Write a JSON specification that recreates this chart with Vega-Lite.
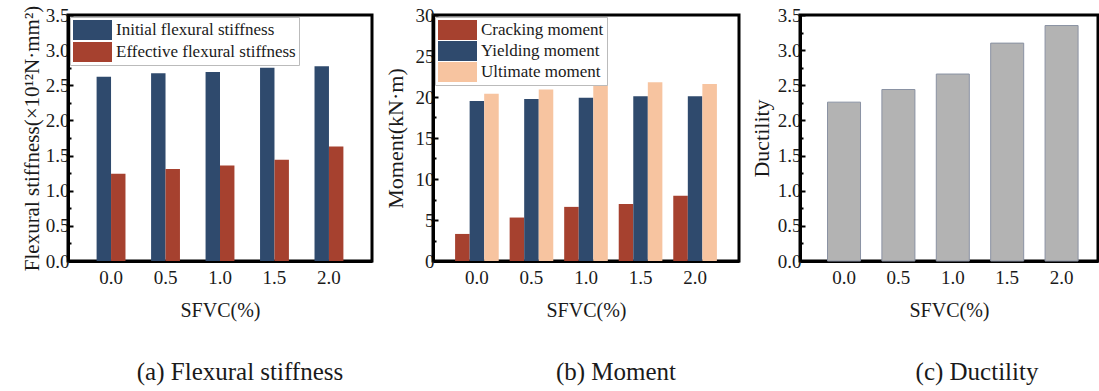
{
  "$schema": "https://vega.github.io/schema/vega-lite/v6.json",
  "padding": {"left": 19, "top": 3, "right": 0, "bottom": 0},
  "bounds": "flush",
  "spacing": 61,
  "resolve": {"scale": {"color": "independent", "xOffset": "independent", "x": "independent", "y": "independent"}, "legend": {"color": "independent"}},
  "datasets": {
    "stiff": [
      {"SFVC": "0.0", "series": "Initial flexural stiffness", "value": 2.62},
      {"SFVC": "0.5", "series": "Initial flexural stiffness", "value": 2.67},
      {"SFVC": "1.0", "series": "Initial flexural stiffness", "value": 2.69},
      {"SFVC": "1.5", "series": "Initial flexural stiffness", "value": 2.75},
      {"SFVC": "2.0", "series": "Initial flexural stiffness", "value": 2.77},
      {"SFVC": "0.0", "series": "Effective flexural stiffness", "value": 1.24},
      {"SFVC": "0.5", "series": "Effective flexural stiffness", "value": 1.31},
      {"SFVC": "1.0", "series": "Effective flexural stiffness", "value": 1.36},
      {"SFVC": "1.5", "series": "Effective flexural stiffness", "value": 1.44},
      {"SFVC": "2.0", "series": "Effective flexural stiffness", "value": 1.63}
    ],
    "moment": [
      {"SFVC": "0.0", "series": "Cracking moment", "value": 3.3},
      {"SFVC": "0.5", "series": "Cracking moment", "value": 5.3},
      {"SFVC": "1.0", "series": "Cracking moment", "value": 6.6},
      {"SFVC": "1.5", "series": "Cracking moment", "value": 6.95},
      {"SFVC": "2.0", "series": "Cracking moment", "value": 7.96},
      {"SFVC": "0.0", "series": "Yielding moment", "value": 19.5},
      {"SFVC": "0.5", "series": "Yielding moment", "value": 19.76},
      {"SFVC": "1.0", "series": "Yielding moment", "value": 19.9},
      {"SFVC": "1.5", "series": "Yielding moment", "value": 20.1},
      {"SFVC": "2.0", "series": "Yielding moment", "value": 20.1},
      {"SFVC": "0.0", "series": "Ultimate moment", "value": 20.4},
      {"SFVC": "0.5", "series": "Ultimate moment", "value": 20.9},
      {"SFVC": "1.0", "series": "Ultimate moment", "value": 21.5},
      {"SFVC": "1.5", "series": "Ultimate moment", "value": 21.8},
      {"SFVC": "2.0", "series": "Ultimate moment", "value": 21.6}
    ],
    "duct": [
      {"SFVC": "0.0", "value": 2.26},
      {"SFVC": "0.5", "value": 2.44},
      {"SFVC": "1.0", "value": 2.66},
      {"SFVC": "1.5", "value": 3.10},
      {"SFVC": "2.0", "value": 3.35}
    ]
  },
  "hconcat": [
    {
      "width": 304,
      "height": 246,
      "view": {"stroke": "#000000", "strokeWidth": 3},
      "data": {"name": "stiff"},
      "title": {"text": "(a) Flexural stiffness", "dx": 20},
      "mark": {"type": "bar"},
      "encoding": {
        "x": {
          "field": "SFVC", "type": "nominal", "sort": ["0.0", "0.5", "1.0", "1.5", "2.0"],
          "scale": {"paddingInner": 0.47, "paddingOuter": 0.525},
          "axis": {"title": "SFVC(%)", "labelAngle": 0, "ticks": false, "labelPadding": 7, "titlePadding": 13}
        },
        "xOffset": {"field": "series", "type": "nominal", "sort": ["Initial flexural stiffness", "Effective flexural stiffness"], "scale": {"paddingInner": 0, "paddingOuter": 0}},
        "y": {
          "field": "value", "type": "quantitative",
          "scale": {"domain": [0, 3.5], "nice": false, "zero": true},
          "axis": {
            "title": "Flexural stiffness(×10¹²N·mm²)",
            "titleFontSize": 21,
            "values": [0, 0.25, 0.5, 0.75, 1, 1.25, 1.5, 1.75, 2, 2.25, 2.5, 2.75, 3, 3.25, 3.5],
            "labelExpr": "datum.value % 0.5 === 0 ? format(datum.value, '.1f') : ''",
            "tickSize": {"condition": {"test": "datum.value % 0.5 === 0", "value": -5}, "value": -3},
            "labelPadding": 4,
            "titlePadding": 3
          }
        },
        "color": {
          "field": "series", "type": "nominal",
          "scale": {"domain": ["Initial flexural stiffness", "Effective flexural stiffness"], "range": ["#2f4a6d", "#a6412f"]},
          "legend": {"title": null, "orient": "top-left", "offset": 2, "rowPadding": 2}
        }
      }
    },
    {
      "width": 306,
      "height": 246,
      "view": {"stroke": "#000000", "strokeWidth": 3},
      "data": {"name": "moment"},
      "title": {"text": "(b) Moment", "dx": 30},
      "mark": {"type": "bar"},
      "encoding": {
        "x": {
          "field": "SFVC", "type": "nominal", "sort": ["0.0", "0.5", "1.0", "1.5", "2.0"],
          "scale": {"paddingInner": 0.2, "paddingOuter": 0.405},
          "axis": {"title": "SFVC(%)", "labelAngle": 0, "ticks": false, "labelPadding": 7, "titlePadding": 13}
        },
        "xOffset": {"field": "series", "type": "nominal", "sort": ["Cracking moment", "Yielding moment", "Ultimate moment"], "scale": {"paddingInner": 0, "paddingOuter": 0}},
        "y": {
          "field": "value", "type": "quantitative",
          "scale": {"domain": [0, 30], "nice": false, "zero": true},
          "axis": {
            "title": "Moment(kN·m)",
            "titleFontSize": 22,
            "values": [0, 2.5, 5, 7.5, 10, 12.5, 15, 17.5, 20, 22.5, 25, 27.5, 30],
            "labelExpr": "datum.value % 5 === 0 ? format(datum.value, 'd') : ''",
            "tickSize": {"condition": {"test": "datum.value % 5 === 0", "value": -5}, "value": -3},
            "labelPadding": 4,
            "titlePadding": 8
          }
        },
        "color": {
          "field": "series", "type": "nominal",
          "scale": {"domain": ["Cracking moment", "Yielding moment", "Ultimate moment"], "range": ["#a6412f", "#2f4a6d", "#f7c4a0"]},
          "legend": {"title": null, "orient": "top-left", "offset": 2, "rowPadding": 1}
        }
      }
    },
    {
      "width": 298,
      "height": 246,
      "view": {"stroke": "#000000", "strokeWidth": 3},
      "data": {"name": "duct"},
      "title": {"text": "(c) Ductility", "dx": 28},
      "mark": {"type": "bar", "color": "#b3b3b3", "stroke": "#8a92a3", "strokeWidth": 1},
      "encoding": {
        "x": {
          "field": "SFVC", "type": "nominal", "sort": ["0.0", "0.5", "1.0", "1.5", "2.0"],
          "scale": {"paddingInner": 0.393, "paddingOuter": 0.436, "align": 0.58},
          "axis": {"title": "SFVC(%)", "labelAngle": 0, "ticks": false, "labelPadding": 7, "titlePadding": 13}
        },
        "y": {
          "field": "value", "type": "quantitative",
          "scale": {"domain": [0, 3.5], "nice": false, "zero": true},
          "axis": {
            "title": "Ductility",
            "titleFontSize": 22,
            "values": [0, 0.25, 0.5, 0.75, 1, 1.25, 1.5, 1.75, 2, 2.25, 2.5, 2.75, 3, 3.25, 3.5],
            "labelExpr": "datum.value % 0.5 === 0 ? format(datum.value, '.1f') : ''",
            "tickSize": {"condition": {"test": "datum.value % 0.5 === 0", "value": -5}, "value": -3},
            "labelPadding": 4,
            "titlePadding": 4
          }
        }
      }
    }
  ],
  "config": {
    "font": "Liberation Serif",
    "axis": {
      "labelFont": "Liberation Serif", "titleFont": "Liberation Serif",
      "labelFontSize": 19, "titleFontSize": 20, "titleFontWeight": "normal",
      "labelColor": "#1a1a1a", "titleColor": "#1a1a1a",
      "domainColor": "#000000", "domainWidth": 3, "grid": false,
      "tickColor": "#000000", "tickWidth": 2, "labelOverlap": false, "labelFlush": false
    },
    "legend": {
      "labelFont": "Liberation Serif", "labelFontSize": 17, "labelColor": "#1a1a1a",
      "symbolType": "M-1,-1H2.9V1H-1Z", "symbolSize": 400, "symbolStrokeWidth": 0,
      "labelOffset": 23, "padding": 3, "strokeColor": "#bbbbbb", "fillColor": "white",
      "labelLimit": 400
    },
    "title": {
      "orient": "bottom", "font": "Liberation Serif", "fontSize": 25, "fontWeight": "normal",
      "color": "#1a1a1a", "offset": 40, "anchor": "middle"
    }
  }
}
